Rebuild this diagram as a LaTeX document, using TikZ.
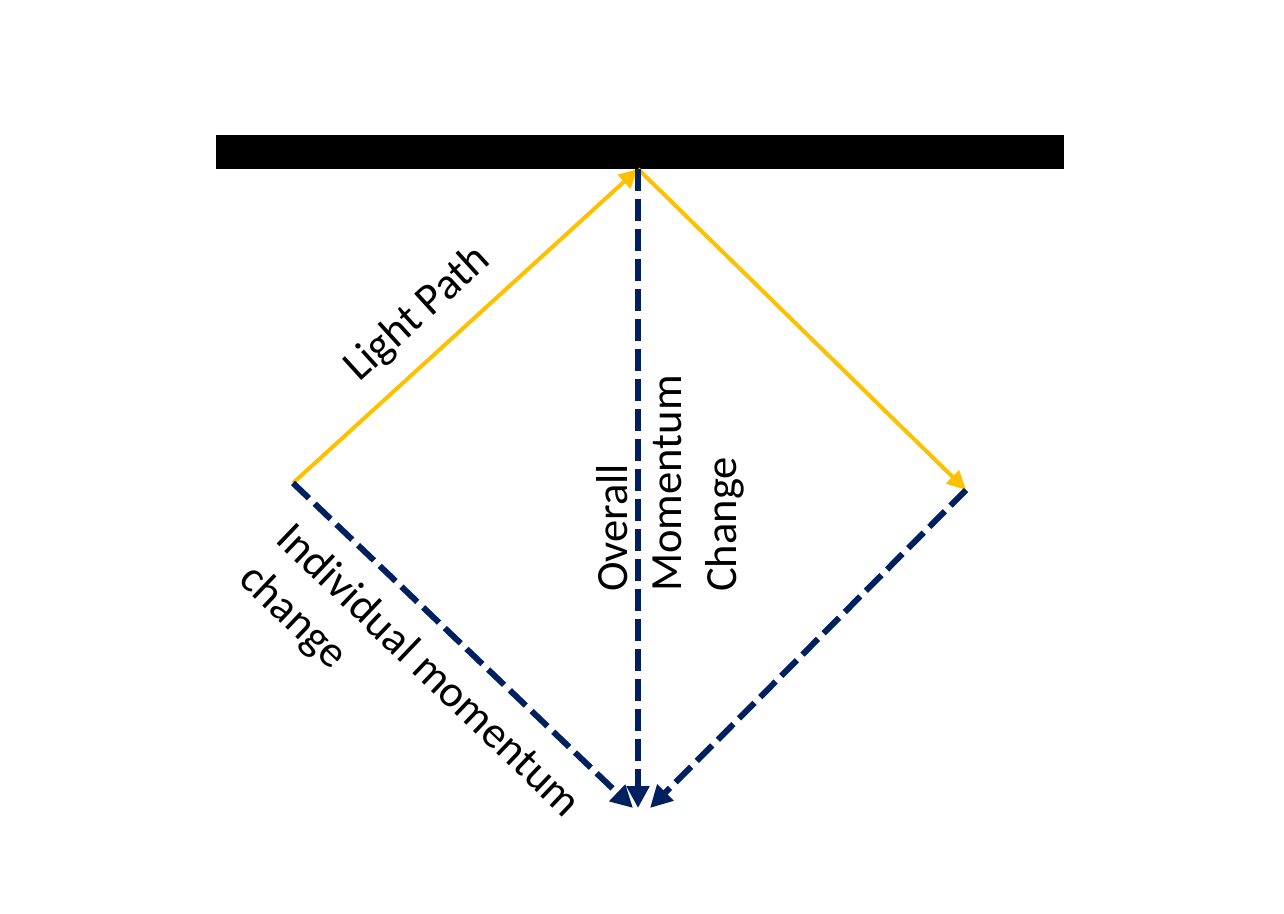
\documentclass[tikz,border=0pt]{standalone}
\usepackage{fontspec}
\setmainfont{Carlito}
\usetikzlibrary{arrows.meta}
\definecolor{lightyellow}{HTML}{FFC000}
\definecolor{momblue}{HTML}{002060}
\begin{document}
\begin{tikzpicture}[x=1pt,y=-1pt,
  lightray/.style={draw=lightyellow,line width=4pt,-{Triangle[length=19pt,width=18pt]}},
  momentum/.style={draw=momblue,line width=6pt,dash pattern=on 22pt off 8pt,-{Triangle[length=22pt,width=22pt]}},
  lbl/.style={inner sep=0pt,font=\fontsize{44.6pt}{54.4pt}\selectfont,align=left}]
\useasboundingbox (0,0) rectangle (1284,913);
\node[fill=black,inner sep=0pt,minimum width=848pt,minimum height=34pt] (mirror) at (640,152) {};
\coordinate (top) at (638,169);
\coordinate (left) at (293,483);
\coordinate (right) at (966,490);
\coordinate (botL) at (633,808);
\coordinate (botM) at (638,808);
\coordinate (botR) at (650,808);
\draw[lightray] (left) -- (top);
\draw[lightray] (top) -- (right);
\draw[momentum] (left) -- (botL);
\draw[momentum] (top) -- (botM);
\draw[momentum] (right) -- (botR);
\node[lbl,rotate=42.3] (lp) at (418,314) {Light Path};
\node[lbl,rotate=-43.7,anchor=base west] (imc) at (237,581) {Individual momentum\\change};
\node[lbl,rotate=90,anchor=base west] (omc) at (736,592) {Overall\\Momentum\\Change};
\end{tikzpicture}
\end{document}
